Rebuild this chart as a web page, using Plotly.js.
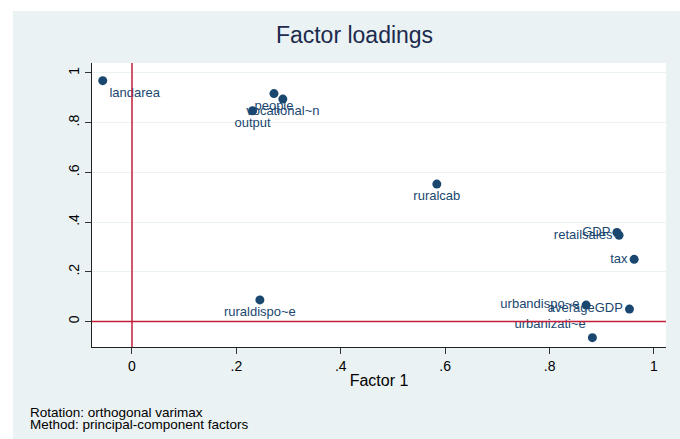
<!DOCTYPE html>
<html>
<head>
<meta charset="utf-8">
<script src="https://cdn.plot.ly/plotly-3.0.1.min.js"></script>
<style>html,body{margin:0;padding:0;background:#fff;}#chart{width:680px;height:439px;}</style>
</head>
<body>
<div id="chart"></div>
<script>
// Data
const varNames = ["landarea", "people", "vocational~n", "output", "ruralcab", "ruraldispo~e",
                  "GDP", "retailsales", "tax", "urbandispo~e", "averageGDP", "urbanizati~e"];
const factor1 = [-0.056, 0.272, 0.289, 0.231, 0.584, 0.245, 0.929, 0.933, 0.962, 0.870, 0.953, 0.882];
const factor2 = [0.969, 0.917, 0.895, 0.848, 0.553, 0.087, 0.358, 0.347, 0.250, 0.066, 0.050, -0.065];
const labelPos = ["bottom right", "bottom center", "bottom center", "bottom center", "bottom center", "bottom center",
                  "middle left", "middle left", "middle left", "middle left", "middle left", "top left"];
const tickVals = [0, 0.2, 0.4, 0.6, 0.8, 1];
const tickText = ["0", ".2", ".4", ".6", ".8", "1"];
const noteLines = ["Rotation: orthogonal varimax", "Method: principal-component factors"];

const FONT = "Liberation Sans, Arial, Helvetica, sans-serif";
const NAVY = "#1a476f";
const RED = "#c41e3a";
const BG = "#eaf2f3";

const trace = {
  type: "scatter",
  mode: "markers+text",
  x: factor1,
  y: factor2,
  text: varNames,
  textposition: labelPos,
  textfont: {family: FONT, size: 13, color: NAVY},
  marker: {color: NAVY, size: 9},
  hoverinfo: "x+y+text",
  cliponaxis: false
};

const layout = {
  width: 680, height: 439,
  margin: {l: 92, r: 14, t: 63, b: 92},
  paper_bgcolor: BG,
  plot_bgcolor: "#ffffff",
  font: {family: FONT, color: "#000"},
  showlegend: false,
  title: {
    text: "Factor loadings",
    font: {family: FONT, size: 23, color: "#1c2a4d"},
    xref: "container", x: 354.5 / 680, xanchor: "center",
    yref: "container", y: 1 - 35 / 439, yanchor: "middle"
  },
  xaxis: {
    range: [-0.0766, 1.023],
    tickvals: tickVals, ticktext: tickText,
    tickfont: {size: 14, color: "#000"},
    ticks: "outside", ticklen: 6, tickcolor: "#333",
    showline: true, linecolor: "#222", linewidth: 1,
    showgrid: false, zeroline: false,
    title: {text: "Factor 1", font: {size: 16, color: "#000"}, standoff: 2}
  },
  yaxis: {
    range: [-0.1026, 1.0402],
    tickvals: tickVals, ticktext: tickText,
    tickfont: {size: 14, color: "#000"},
    tickangle: -90,
    ticks: "outside", ticklen: 6, tickcolor: "#333",
    showline: true, linecolor: "#222", linewidth: 1,
    showgrid: true, gridcolor: BG, gridwidth: 1,
    zeroline: false
  },
  shapes: [
    // white page margins outside the graph region
    {type: "rect", xref: "paper", yref: "paper", x0: -0.3, x1: 1.2, y0: 1 + 52 / 284, y1: 1.4,
     fillcolor: "#ffffff", line: {width: 0}, layer: "below"},
    {type: "rect", xref: "paper", yref: "paper", x0: -0.3, x1: -79 / 574, y0: -0.6, y1: 1.4,
     fillcolor: "#ffffff", line: {width: 0}, layer: "below"},
    // reference lines at zero
    {type: "line", xref: "x", yref: "paper", x0: 0, x1: 0, y0: 0, y1: 1,
     line: {color: RED, width: 1.5}, layer: "above"},
    {type: "line", xref: "paper", yref: "y", x0: 0, x1: 1, y0: 0, y1: 0,
     line: {color: RED, width: 1.5}, layer: "above"}
  ],
  annotations: noteLines.map((t, i) => ({
    text: t, xref: "paper", yref: "paper",
    x: (28 - 92) / 574, xanchor: "left",
    y: (347 - (412 + i * 12)) / 284, yanchor: "middle",
    showarrow: false, align: "left",
    font: {family: FONT, size: 13.5, color: "#000"}
  }))
};

Plotly.newPlot("chart", [trace], layout, {displayModeBar: false, staticPlot: true});
</script>
</body>
</html>
